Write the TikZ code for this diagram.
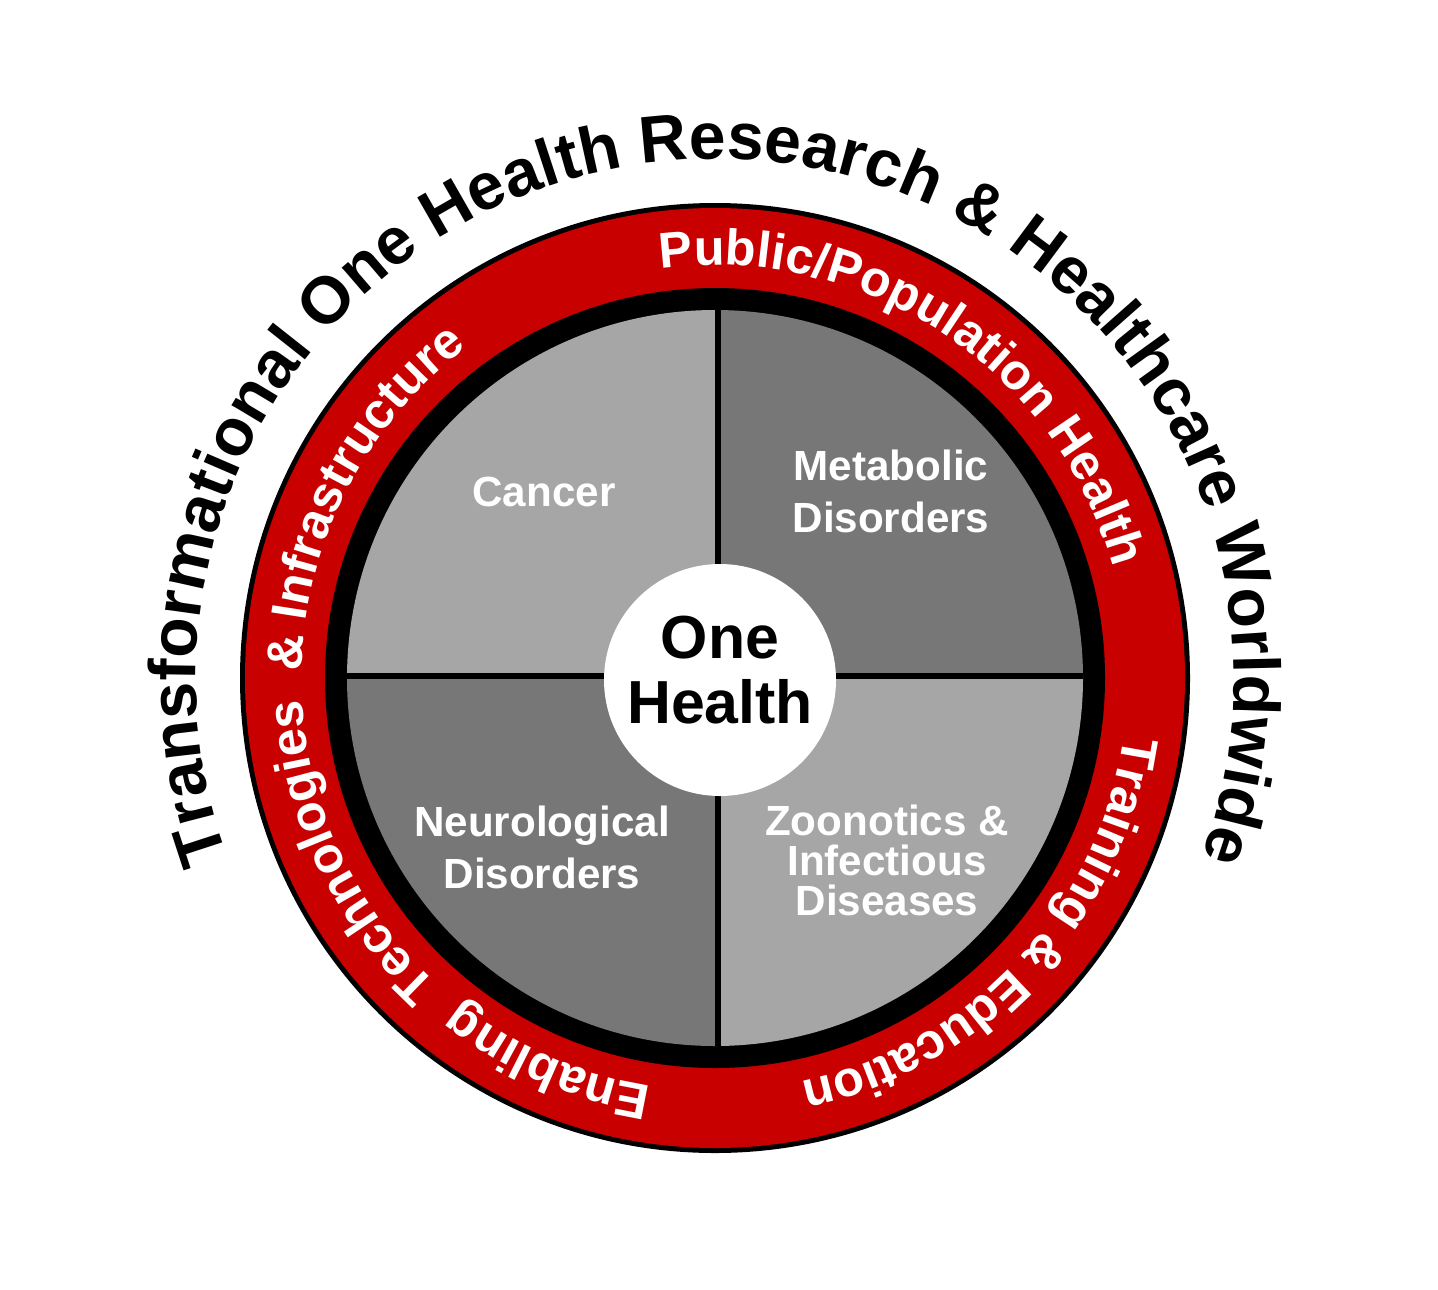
\documentclass[tikz,border=0pt]{standalone}
\usepackage{fontspec}
\setmainfont{Liberation Sans}
\usetikzlibrary{decorations.text}
\definecolor{ringred}{HTML}{C80000}
\definecolor{qlight}{HTML}{A6A6A6}
\definecolor{qdark}{HTML}{777777}
\tikzset{
  ringtext/.style={decorate, decoration={text along path, text align=center,
     text={|\fontsize{14.3}{14.3}\selectfont\bfseries\color{white}|#1}}},
  outertext/.style={decorate, decoration={text along path, text align=center,
     text={|\fontsize{18.8}{18.8}\selectfont\bfseries|#1}}},
  qlabel/.style={text=white, align=center, inner sep=0pt,
     font=\fontsize{12}{14.8}\selectfont\bfseries},
  divider/.style={line width=1.8pt, black},
}
\begin{document}
\begin{tikzpicture}
\useasboundingbox (0,0) rectangle (14.38,12.89);
\coordinate (C) at (7.15,6.11);
\coordinate (Q) at (7.18,6.13);
% rings
\fill[black] (C) circle[radius=4.75];
\fill[ringred] (C) circle[radius=4.70];
\fill[black] (C) circle[radius=3.90];
% quadrants
\begin{scope}
  \clip (C) circle[radius=3.68];
  \fill[qlight] (Q) rectangle ++(-4,4);
  \fill[qdark]  (Q) rectangle ++(4,4);
  \fill[qdark]  (Q) rectangle ++(-4,-4);
  \fill[qlight] (Q) rectangle ++(4,-4);
  \draw[divider] ([yshift=4cm]Q) -- ([yshift=-4cm]Q);
  \draw[divider] ([xshift=-4cm]Q) -- ([xshift=4cm]Q);
\end{scope}
% centre
\node[circle, fill=white, minimum size=2.32cm, inner sep=0pt] (hub) at (7.20,6.09) {};
\node[align=center, inner sep=0pt, font=\fontsize{17.3}{18.5}\selectfont\bfseries] (onehealth) at (7.20,6.19) {One\\Health};
% quadrant labels
\node[qlabel] (cancer) at (5.44,7.97) {Cancer};
\node[qlabel] (metab) at (8.91,7.98) {Metabolic\\Disorders};
\node[qlabel] (neuro) at (5.42,4.42) {Neurological\\Disorders};
\node[qlabel, font=\fontsize{12}{11.4}\selectfont\bfseries] (zoo) at (8.87,4.29) {Zoonotics \&\\Infectious\\Diseases};
% ring texts
\path[ringtext={Public/Population Health}] (C) ++(110:4.13) arc[start angle=110, end angle=3, radius=4.13];
\path[ringtext={Training {\&} Education}] (C) ++(0:4.13) arc[start angle=0, end angle=-86, radius=4.13];
\path[ringtext={Enabling {\ }Technologies {\ }{\&} Infrastructure}] (C) ++(265:4.13) arc[start angle=265, end angle=123, radius=4.13];
% outer text
\path[outertext={Transformational One Health Research {\&} Healthcare Worldwide}] (C) ++(210:5.19) arc[start angle=210, end angle=-30, radius=5.19];
\end{tikzpicture}
\end{document}
